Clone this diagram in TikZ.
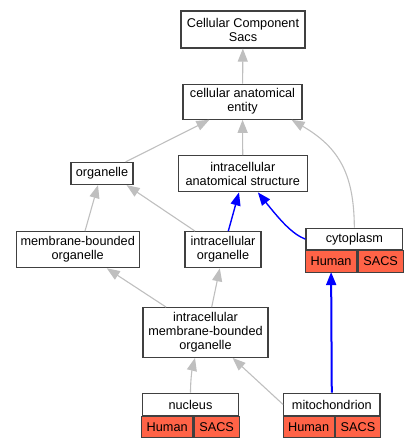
\documentclass[tikz,border=0pt]{standalone}
\usepackage{fontspec}
\setmainfont{Liberation Sans}
\usetikzlibrary{arrows.meta}
\definecolor{tomato}{HTML}{FF6347}

\begin{document}
\begin{tikzpicture}[x=1pt, y=-1pt,
		main/.style = {draw=black!75, line width=1.2pt, fill=white, align=center, inner sep=0pt, font=\fontsize{12.7}{14}\selectfont},
		cell/.style = {main, fill=tomato, outer sep=0pt, minimum height=21.5pt},
		isa/.style = {draw=lightgray, line width=1.1pt, -{Triangle[length=13pt,width=10pt]}},
		partof/.style = {draw=blue, line width=1.4pt, -{Triangle[length=13pt,width=10pt]}}]
			\useasboundingbox (0,0) rectangle (419,448);
			\node[main, minimum width=124pt, minimum height=37pt] (ccs) at (243,29.5) {Cellular Component\\Sacs};
			\node[main, minimum width=119pt, minimum height=35pt] (cae) at (242.5,101.7) {cellular anatomical\\entity};
			\node[main, minimum width=62pt, minimum height=22pt] (org) at (102,173.5) {organelle};
			\node[main, minimum width=129pt, minimum height=36pt] (ias) at (242.8,173.8) {intracellular\\anatomical structure};
			\node[main, minimum width=123pt, minimum height=36pt] (mbo) at (77.7,249.7) {membrane-bounded\\organelle};
			\node[main, minimum width=76pt, minimum height=36pt] (io) at (223,249.7) {intracellular\\organelle};
			\node[main, minimum width=96.7pt, minimum height=21.7pt] (cyto) at (354.35,239.15) {cytoplasm};
			\node[cell, minimum width=51.3pt, anchor=north west] (cyh) at (cyto.south west) {Human};
			\node[cell, minimum width=45.4pt, anchor=north east] (cys) at (cyto.south east) {SACS};
			\node[main, minimum width=125pt, minimum height=49.6pt] (imbo) at (205.5,332.5) {intracellular\\membrane-bounded\\organelle};
			\node[main, minimum width=96.4pt, minimum height=22.4pt] (nuc) at (190.5,404.5) {nucleus};
			\node[cell, minimum width=51pt, anchor=north west] (nuh) at (nuc.south west) {Human};
			\node[cell, minimum width=45.4pt, anchor=north east] (nus) at (nuc.south east) {SACS};
			\node[main, minimum width=96.3pt, minimum height=22.4pt] (mito) at (331.85,404.5) {mitochondrion};
			\node[cell, minimum width=51pt, anchor=north west] (mih) at (mito.south west) {Human};
			\node[cell, minimum width=45.3pt, anchor=north east] (mis) at (mito.south east) {SACS};
			\draw[isa] (cae) -- (ccs);
			\draw[isa] ([xshift=-8pt]org.north east) -- ([xshift=27pt]cae.south west);
			\draw[isa] (ias) -- (cae);
			\draw[isa] (cyto.north) .. controls (354,175) and (340,148) .. ([xshift=-11pt]cae.south east);
			\draw[isa] ([xshift=7.3pt]mbo.north) -- ([xshift=-4pt]org.south);
			\draw[isa] ([xshift=-28pt]io.north) -- ([xshift=-7pt]org.south east);
			\draw[partof] ([xshift=5.3pt]io.north) -- ([xshift=-3.8pt]ias.south);
			\draw[partof] (cyto.west) .. controls (292,234) and (280,220) .. ([xshift=-50pt]ias.south east);
			\draw[isa] ([xshift=23.7pt]imbo.north west) -- ([xshift=-33pt]mbo.south east);
			\draw[isa] ([xshift=6.2pt]imbo.north) -- ([xshift=-3.2pt]io.south);
			\draw[isa] (nuc.north) .. controls (190.5,380) and (192,370) .. ([xshift=-10.5pt]imbo.south);
			\draw[isa] (mito.west) -- ([xshift=-36pt]imbo.south east);
			\draw[partof, line width=2pt] (mito) -- (cyh);
		\end{tikzpicture}
\end{document}
